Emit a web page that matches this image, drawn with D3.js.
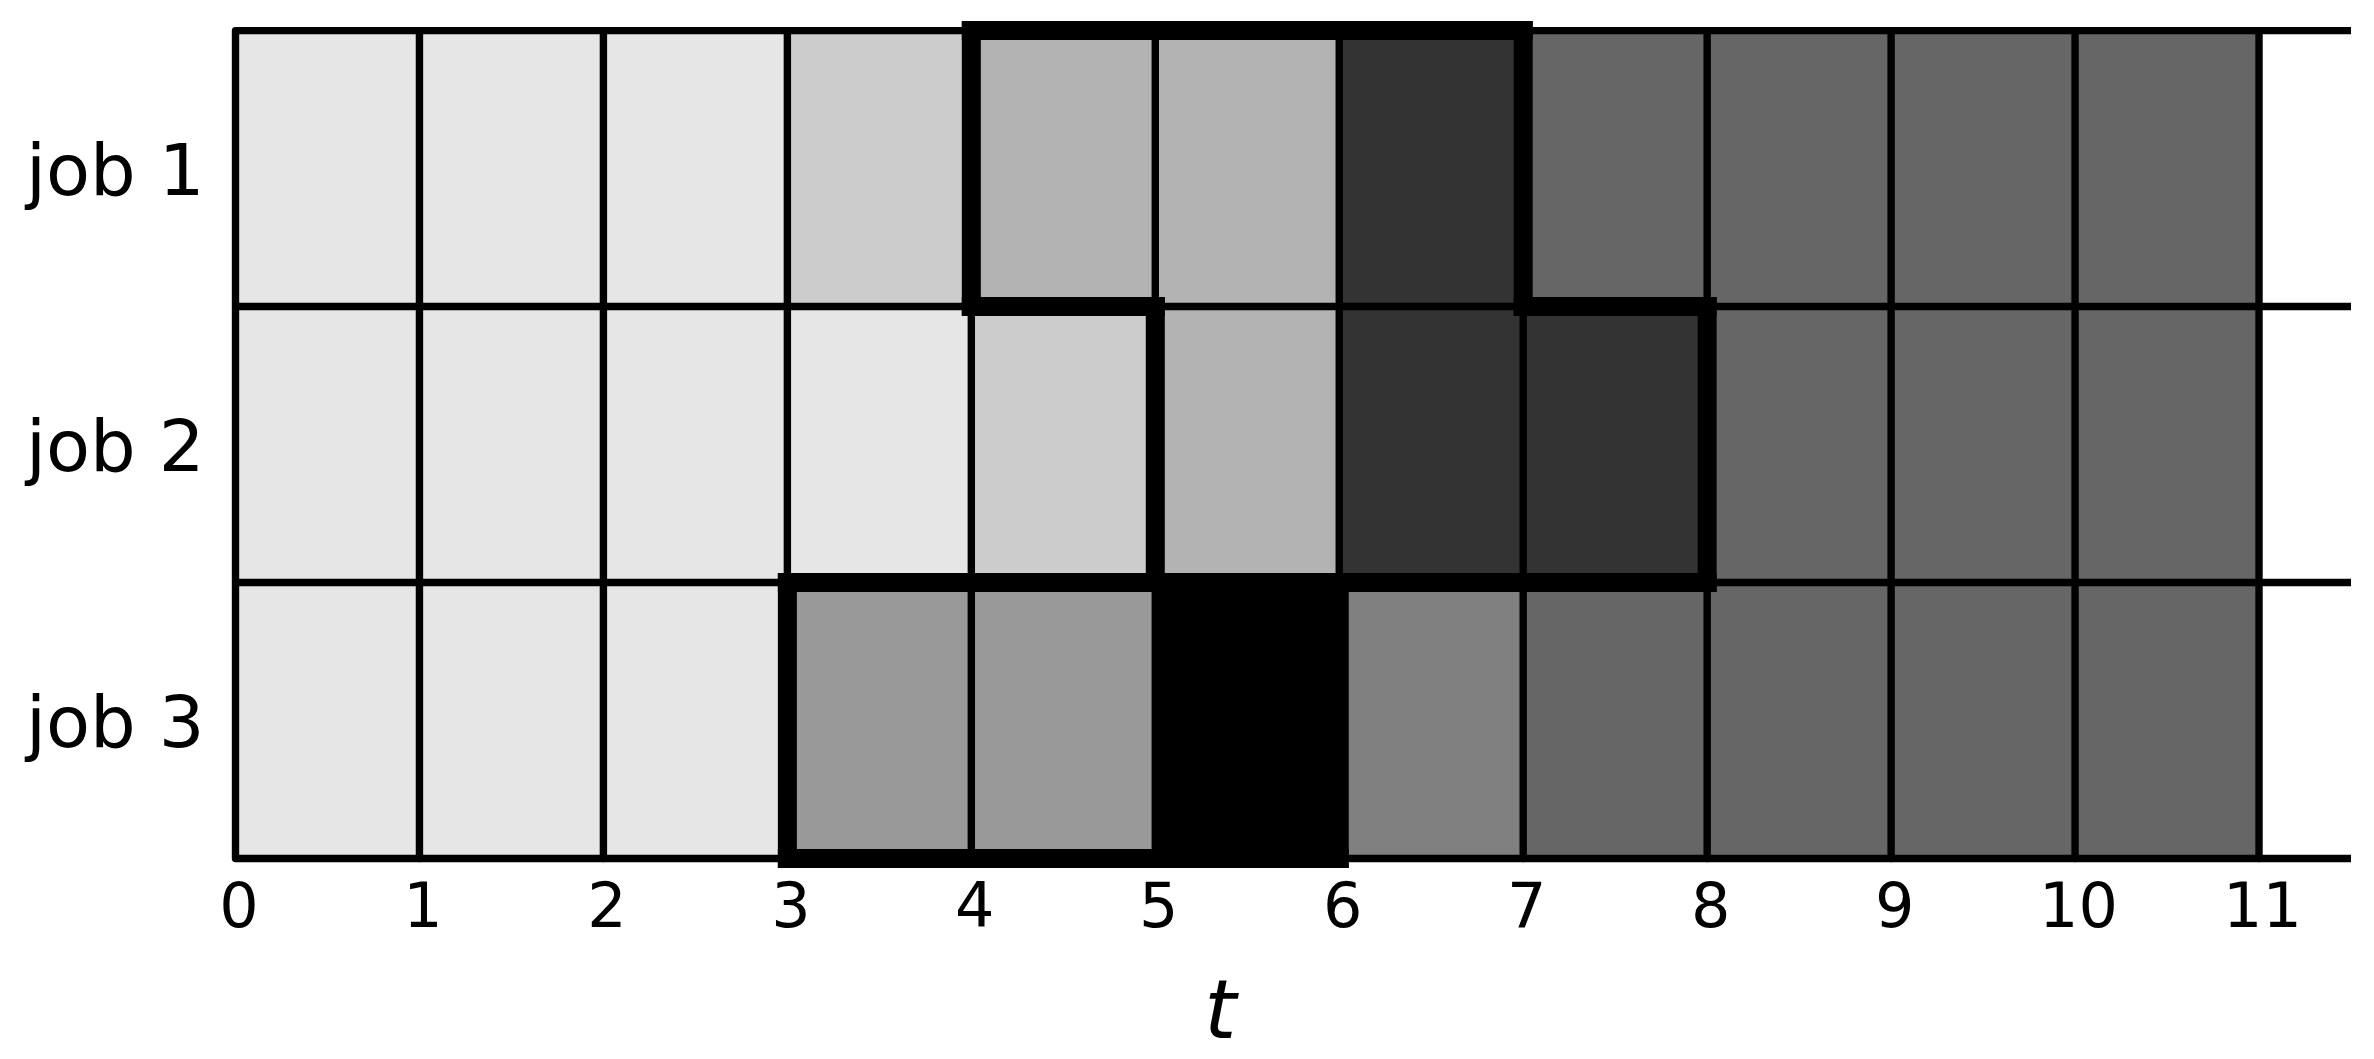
<!DOCTYPE html>
<html>
<head>
<meta charset="utf-8">
<script src="https://cdn.jsdelivr.net/npm/d3@7"></script>
<style>
  html, body { margin: 0; padding: 0; background: #ffffff; }
  svg { display: block; }
  text { font-family: "DejaVu Sans", sans-serif; fill: #000; }
</style>
</head>
<body>
<svg id="chart" width="2374" height="1059"></svg>
<script>
// ---- data ----
const jobs = ["job 1", "job 2", "job 3"];
const timeTicks = [0, 1, 2, 3, 4, 5, 6, 7, 8, 9, 10, 11];
// grey level of each unit cell (1 = white, 0 = black), per job, t = 0..10
const job1Levels = [0.9, 0.9, 0.9, 0.8, 0.7, 0.7, 0.2, 0.4, 0.4, 0.4, 0.4];
const job2Levels = [0.9, 0.9, 0.9, 0.9, 0.8, 0.7, 0.2, 0.2, 0.4, 0.4, 0.4];
const job3Levels = [0.9, 0.9, 0.9, 0.6, 0.6, 0.0, 0.5, 0.4, 0.4, 0.4, 0.4];
// highlighted cells: [job index, start time, group]
const highlighted = [
  [0, 4, "A"], [0, 5, "A"], [0, 6, "A"],
  [1, 5, "A"], [1, 6, "A"], [1, 7, "A"],
  [2, 3, "B"], [2, 4, "B"], [2, 5, "B"]
];
const xLabel = "t";

// ---- layout ----
const svg = d3.select("#chart");
const x = d3.scaleLinear().domain([0, 11.5]).range([235.5, 2351]);
const yBand = d3.scaleBand().domain(jobs).range([30.6, 858.5]).padding(0);
const yRow = d3.scaleLinear().domain([0, 3]).range([30.6, 858.5]);
const grey = d3.scaleLinear().domain([0, 1]).range(["#000000", "#ffffff"]);

const levels = [job1Levels, job2Levels, job3Levels];
const cells = [];
levels.forEach((row, j) => row.forEach((v, t) => cells.push({ j, t, v })));

// cells
svg.append("g").selectAll("rect").data(cells).join("rect")
  .attr("x", d => x(d.t))
  .attr("y", d => yRow(d.j))
  .attr("width", d => x(d.t + 1) - x(d.t))
  .attr("height", d => yRow(d.j + 1) - yRow(d.j))
  .attr("fill", d => grey(d.v));

// thin grid
const thin = 7.4;
const gGrid = svg.append("g").attr("stroke", "#000").attr("stroke-width", thin).attr("stroke-linecap", "round");
gGrid.selectAll("line.h").data(d3.range(1, jobs.length)).join("line")
  .attr("class", "h")
  .attr("x1", x(0)).attr("x2", x(11.5))
  .attr("y1", d => yRow(d)).attr("y2", d => yRow(d))
  .attr("stroke-linecap", "butt");
gGrid.selectAll("line.v").data(timeTicks.slice(1)).join("line")
  .attr("class", "v")
  .attr("x1", d => x(d)).attr("x2", d => x(d))
  .attr("y1", yRow(0)).attr("y2", yRow(jobs.length));
// outer frame: top, left, bottom with rounded left corners
gGrid.append("path")
  .attr("fill", "none")
  .attr("stroke-linejoin", "round")
  .attr("stroke-linecap", "butt")
  .attr("d", `M${x(11.5)},${yRow(0)}H${x(0)}V${yRow(3)}H${x(11.5)}`);

// thick outline of highlighted groups
const key = (j, t) => j + ":" + t;
const groupOf = new Map(highlighted.map(([j, t, g]) => [key(j, t), g]));
const segs = [];
highlighted.forEach(([j, t, g]) => {
  if (groupOf.get(key(j - 1, t)) !== g) segs.push([t, j, t + 1, j]);
  if (groupOf.get(key(j + 1, t)) !== g) segs.push([t, j + 1, t + 1, j + 1]);
  if (groupOf.get(key(j, t - 1)) !== g) segs.push([t, j, t, j + 1]);
  if (groupOf.get(key(j, t + 1)) !== g) segs.push([t + 1, j, t + 1, j + 1]);
});
svg.append("g").attr("stroke", "#000").attr("stroke-width", 19).attr("stroke-linecap", "square")
  .selectAll("line").data(segs).join("line")
  .attr("x1", d => x(d[0])).attr("y1", d => yRow(d[1]))
  .attr("x2", d => x(d[2])).attr("y2", d => yRow(d[3]));

// x axis labels
const xAxis = d3.axisBottom(x).tickValues(timeTicks).tickFormat(d3.format("d")).tickSize(0).tickPadding(24.5);
const gx = svg.append("g").attr("transform", `translate(3,${yRow(3)})`).call(xAxis);
gx.select(".domain").remove();
gx.selectAll("text").attr("font-size", 62).attr("font-family", "DejaVu Sans").attr("fill", "#000");

// y axis labels
const yAxis = d3.axisLeft(yBand).tickSize(0).tickPadding(31);
const gy = svg.append("g").attr("transform", `translate(${x(0)},0)`).call(yAxis);
gy.select(".domain").remove();
gy.selectAll("text").attr("font-size", 72).attr("font-family", "DejaVu Sans").attr("fill", "#000").attr("dy", "0.365em");

// axis title
svg.append("text")
  .attr("x", x(5.5) - 27)
  .attr("y", 1038)
  .attr("text-anchor", "middle")
  .attr("font-size", 82)
  .attr("font-style", "italic")
  .text(xLabel);
</script>
</body>
</html>
